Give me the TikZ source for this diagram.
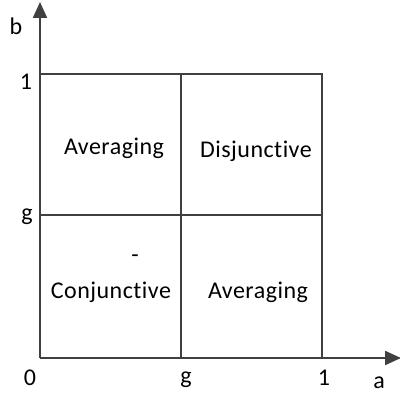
\documentclass[tikz,border=0pt]{standalone}
\usepackage{fontspec}
\setmainfont{Carlito}[Ligatures=CommonOff, LetterSpace=2]
\usetikzlibrary{arrows.meta,positioning}
\definecolor{axisgray}{HTML}{404040}

\begin{document}
\begin{tikzpicture}[
  x=1pt, y=1pt,
  axis/.style={draw=axisgray, line width=2.2pt, -{Triangle[length=16pt,width=14pt]}},
  gridline/.style={draw=axisgray, line width=1.4pt},
  tick/.style={font=\fontsize{24}{26}\selectfont, inner sep=0pt},
  region/.style={font=\fontsize{24}{27}\selectfont, inner sep=0pt}
]
  \useasboundingbox (0,0) rectangle (400,394);
  % axes
  \coordinate (origin) at (40,36);
  \coordinate (ytip) at (40,392);
  \coordinate (xtip) at (401,36);
  % grid corners
  \coordinate (gx) at (181,36);
  \coordinate (onex) at (322,36);
  \coordinate (gy) at (40,179);
  \coordinate (oney) at (40,320);
  \coordinate (gg) at (181,179);
  \coordinate (onegy) at (322,179);
  \coordinate (gone) at (181,320);
  \coordinate (oneone) at (322,320);

  \draw[gridline] (oney) -- (oneone) -- (onex);
  \draw[gridline] (gy) -- (onegy);
  \draw[gridline] (gx) -- (gone);
  \draw[axis] (origin) -- (ytip);
  \draw[axis] (origin) -- (xtip);

  % tick labels
  \node[tick] (lblb) at (16,368) {b};
  \node[tick] (lbl1y) at (26,312) {1};
  \node[tick] (lblgy) at (27,177) {g};
  \node[tick] (lbl0) at (30,16) {0};
  \node[tick] (lblgx) at (186,14) {g};
  \node[tick] (lbl1x) at (324,16) {1};
  \node[tick] (lbla) at (379,11) {a};

  % regions
  \node[region] (avgtop) at (114,246) {Averaging};
  \node[region] (disj) at (256,243) {Disjunctive};
  \node[region] (dash) at (135,135) {-};
  \node[region] (conj) at (111,102) {Conjunctive};
  \node[region] (avgbot) at (258,102) {Averaging};
\end{tikzpicture}
\end{document}
